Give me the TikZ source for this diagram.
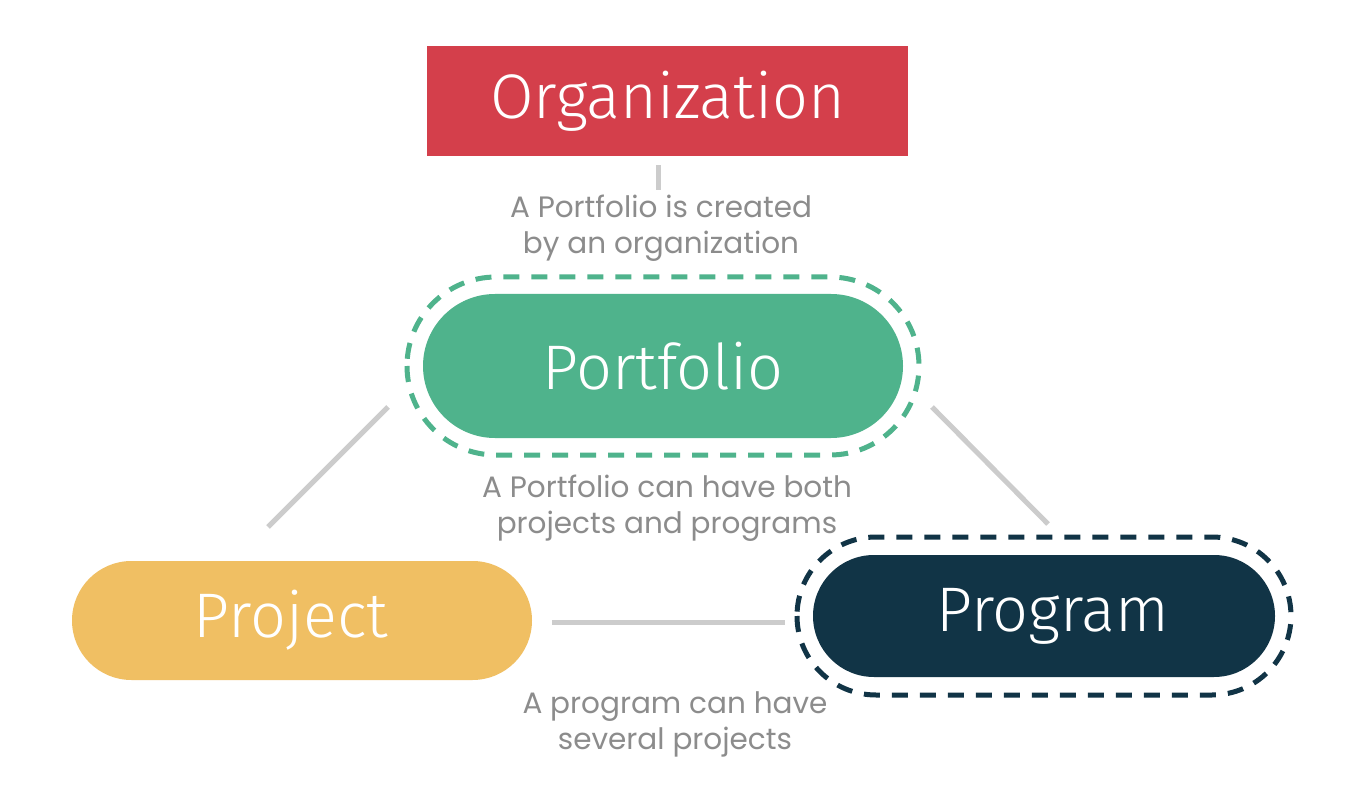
\documentclass[tikz,border=0pt]{standalone}
\usepackage{fontspec}
\setmainfont{Fira Sans}[UprightFont=* Light]
\newfontfamily\capfont{Poppins}
\usetikzlibrary{calc}
\definecolor{orgred}{HTML}{D43F4B}
\definecolor{pfgreen}{HTML}{4FB38C}
\definecolor{pjyellow}{HTML}{F0BF63}
\definecolor{pgnavy}{HTML}{113446}
\definecolor{captxt}{HTML}{8C8C8C}
\definecolor{linegray}{HTML}{CCCCCC}
\begin{document}
\begin{tikzpicture}[x=1pt,y=-1pt,
  label/.style={text=white, font=\fontsize{63}{65}\selectfont, inner sep=0pt},
  pill/.style={label, rounded corners=#1},
  capt/.style={text=captxt, font=\capfont\fontsize{29.5}{36}\selectfont, align=center, inner sep=0pt},
  conn/.style={draw=linegray, line width=5pt},
  dashring/.style={line width=5pt, dash pattern=on 16pt off 12pt}]
\useasboundingbox[fill=white] (0,0) rectangle (1350,802);
% nodes
\node[label, fill=orgred, minimum width=481pt, minimum height=110pt] (org) at (667.5,101) {Organization};
\node[pill=72pt, fill=pfgreen, minimum width=480pt, minimum height=144pt] (pf) at (663,366) {Portfolio};
\node[pill=59.5pt, fill=pjyellow, minimum width=460pt, minimum height=119pt] (pj) at (302,620.5) {Project\kern22pt\relax};
\node[pill=61pt, fill=pgnavy, minimum width=462pt, minimum height=122pt] (pg) at (1044,616) {\kern18pt\relax Program};
% dashed rings
\draw[dashring, draw=pfgreen, rounded corners=89pt] ($(pf.center)+(-256,-89)$) rectangle ($(pf.center)+(256,89)$);
\draw[dashring, draw=pgnavy, rounded corners=79pt] ($(pg.center)+(-247,-79)$) rectangle ($(pg.center)+(247,79)$);
% captions
\node[capt] (c1) at (661,228) {A Portfolio is created\\by an organization};
\node[capt] (c2) at (667,508) {A Portfolio can have both\\projects and programs};
\node[capt] (c3) at (675,724) {A program can have\\several projects};
% connector end points
\coordinate (o1) at ($(org.south)+(-9.5,9)$);
\coordinate (o2) at ($(org.south)+(-9.5,34)$);
\coordinate (a1) at (388,407);
\coordinate (a2) at (268,527);
\coordinate (b1) at (932,407);
\coordinate (b2) at (1048,524);
\coordinate (h1) at ($(pj.east)+(20,1.5)$);
\coordinate (h2) at ($(pg.west)+(-28,6)$);
\draw[conn] (o1) -- (o2);
\draw[conn] (a1) -- (a2);
\draw[conn] (b1) -- (b2);
\draw[conn] (h1) -- (h2);
\end{tikzpicture}
\end{document}
